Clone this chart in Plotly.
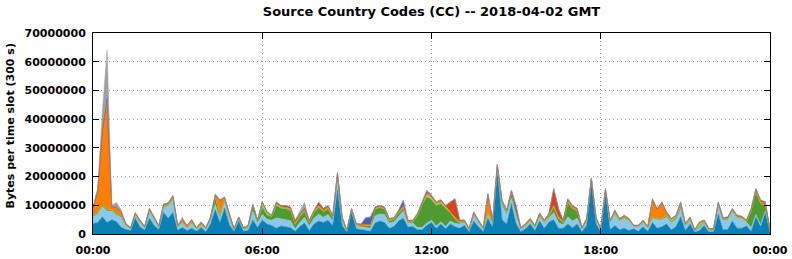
import pandas as pd
import plotly.graph_objects as go

# time slots (10-minute sampling of the day)
times = pd.date_range("2018-04-02 00:00", periods=145, freq="10min")

# values in millions of bytes per slot, bottom layer first
teal = [3.7, 4.0, 6.0, 4.0, 5.0, 4.3, 2.3, 1.6, 1.2, 5.5,
        2.4, 1.4, 5.5, 3.0, 1.6, 7.5, 5.5, 7.5, 1.3, 2.3,
        1.2, 2.0, 1.0, 2.3, 0.8, 3.5, 8.5, 4.0, 9.0, 3.2,
        0.9, 4.5, 1.0, 1.2, 4.9, 2.3, 4.9, 3.5, 3.0, 2.0,
        2.8, 2.5, 2.2, 1.0, 2.6, 3.8, 1.2, 3.5, 4.5, 4.0,
        4.8, 3.0, 15.3, 3.0, 0.6, 7.5, 1.8, 1.6, 1.3, 1.0,
        3.8, 4.5, 4.0, 2.0, 2.6, 4.5, 5.5, 2.4, 2.6, 1.5,
        1.5, 3.0, 4.0, 2.0, 3.5, 1.8, 3.5, 2.5, 2.0, 3.0,
        0.8, 4.5, 2.5, 0.9, 5.5, 2.4, 22.0, 5.0, 3.5, 10.5,
        3.5, 0.8, 1.8, 3.5, 1.2, 4.5, 2.0, 4.2, 5.0, 2.0,
        2.0, 3.5, 2.2, 3.5, 0.8, 3.0, 18.0, 3.5, 0.8, 14.0,
        1.5, 3.0, 1.5, 2.0, 1.2, 1.8, 1.0, 2.5, 1.0, 4.0,
        2.0, 2.5, 3.5, 1.5, 2.5, 6.0, 1.2, 3.5, 0.6, 1.2,
        3.0, 0.7, 0.7, 7.0, 1.5, 1.6, 4.5, 2.0, 2.0, 2.8,
        1.0, 6.0, 2.5, 7.5, 0.6]
light_blue = [2.3, 3.0, 3.5, 4.0, 3.0, 2.3, 3.5, 1.2, 0.6, 1.0,
              1.6, 0.8, 2.3, 2.0, 0.8, 1.8, 4.2, 4.8, 1.2, 1.5,
              0.8, 1.8, 0.7, 0.8, 0.9, 1.5, 1.8, 1.5, 2.5, 2.5,
              0.6, 0.8, 0.6, 0.8, 3.0, 1.4, 2.0, 1.6, 1.8, 3.6,
              2.6, 2.5, 2.5, 0.8, 1.5, 2.0, 1.6, 2.0, 2.4, 1.8,
              2.0, 1.5, 4.0, 1.6, 0.4, 0.6, 1.0, 0.8, 1.0, 1.0,
              2.5, 2.5, 2.8, 1.8, 1.6, 1.8, 2.5, 1.3, 1.2, 0.8,
              0.8, 0.8, 0.8, 0.8, 0.8, 0.8, 1.0, 1.2, 1.5, 1.0,
              0.6, 2.0, 1.4, 0.8, 1.3, 1.2, 1.0, 5.0, 3.5, 2.0,
              3.0, 0.8, 0.9, 1.0, 1.0, 1.6, 1.8, 1.5, 2.5, 2.0,
              1.2, 2.5, 2.3, 2.0, 0.7, 1.4, 0.6, 1.6, 0.7, 0.8,
              2.5, 4.0, 3.0, 3.5, 3.4, 0.8, 1.5, 1.6, 1.2, 1.5,
              3.0, 2.5, 2.5, 2.5, 2.5, 3.0, 1.6, 1.2, 0.5, 1.0,
              0.8, 0.6, 0.6, 3.0, 3.3, 3.4, 3.3, 3.6, 3.4, 1.3,
              1.2, 0.8, 0.6, 0.6, 0.4]
green = [0.4, 0.5, 0.5, 0.5, 0.4, 0.5, 0.4, 0.2, 0.1, 0.2,
         0.2, 0.1, 0.3, 0.2, 0.1, 0.3, 0.3, 0.3, 0.1, 0.2,
         0.1, 0.2, 0.1, 0.1, 0.1, 0.3, 2.5, 0.8, 0.5, 0.5,
         0.1, 0.2, 0.3, 0.5, 1.8, 0.6, 2.3, 1.5, 1.2, 4.2,
         3.6, 3.8, 3.5, 1.6, 2.0, 2.2, 1.2, 2.0, 2.5, 2.0,
         2.0, 1.2, 1.0, 0.6, 0.1, 0.2, 0.3, 0.3, 0.6, 0.8,
         2.4, 2.2, 1.8, 0.8, 0.8, 1.0, 1.0, 0.4, 0.4, 4.0,
         7.7, 9.1, 7.1, 7.1, 6.2, 6.3, 3.0, 1.5, 0.4, 0.3,
         0.1, 0.3, 0.3, 0.1, 0.4, 0.3, 0.3, 0.8, 0.6, 1.6,
         0.8, 0.1, 0.2, 0.2, 0.2, 0.3, 0.3, 0.5, 2.0, 1.5,
         0.8, 5.0, 4.4, 2.5, 0.3, 0.3, 0.2, 0.2, 0.1, 0.2,
         0.2, 0.3, 0.2, 0.3, 0.2, 0.1, 0.1, 0.1, 0.1, 0.3,
         0.3, 0.4, 0.4, 0.3, 0.3, 0.6, 0.3, 0.3, 0.1, 0.2,
         0.2, 0.1, 0.1, 0.3, 0.2, 0.2, 0.3, 0.2, 0.2, 0.2,
         5.8, 7.8, 7.6, 1.8, 0.1]
light_green = [0, 0, 0, 0, 0, 0, 0, 0, 0, 0,
               0, 0, 0, 0, 0, 0, 0, 0, 0, 0,
               0, 0, 0, 0, 0, 0, 0, 0, 0, 0,
               0, 0, 0, 0, 0, 0, 1.6, 0.8, 0.2, 0.3,
               0.2, 0.2, 0.2, 0, 0, 0, 0, 0, 0, 0,
               0, 0, 0, 0, 0, 0, 0, 0, 0, 0,
               0, 0, 0, 0, 0, 0, 0, 0, 0, 0,
               0.4, 0.8, 0.6, 0.5, 0.6, 0.4, 0, 0, 0, 0,
               0, 0, 0, 0, 0, 0, 0, 0, 0, 0.3,
               0, 0, 0, 0, 0, 0, 0, 0, 0, 0,
               0, 0, 0, 0, 0, 0, 0, 0, 0, 0,
               0, 0, 0, 0, 0, 0, 0, 0, 0, 0,
               0, 0, 0, 0.5, 0.5, 0.5, 0, 0.2, 0, 1.2,
               0.3, 0, 0, 0, 0, 0, 0, 0, 0, 0,
               0, 0, 0, 0, 0]
orange = [2.6, 7.5, 26.0, 38.5, 1.0, 2.0, 1.2, 0.4, 0.2, 0.5,
          0.4, 0.3, 0.6, 0.5, 0.3, 0.6, 0.6, 0.6, 0.3, 0.6,
          0.8, 0.7, 0.3, 0.8, 0.3, 0.4, 0.6, 5.3, 0.6, 0.6,
          0.2, 0.3, 0.2, 0.4, 0.5, 0.4, 0.3, 0.2, 0.2, 0.5,
          0.3, 0.4, 0.4, 0.4, 0.4, 0.5, 0.4, 0.4, 0.5, 0.5,
          0.5, 0.4, 0.7, 0.5, 0.2, 0.4, 0.4, 0.5, 0.4, 0.4,
          0.5, 0.5, 0.5, 0.5, 0.5, 0.5, 0.7, 0.4, 0.4, 0.5,
          0.5, 0.6, 0.5, 0.5, 0.5, 0.4, 0.5, 0.6, 0.4, 0.4,
          0.3, 0.6, 0.4, 0.3, 6.5, 0.7, 0.7, 0.6, 0.5, 0.5,
          0.4, 0.3, 0.5, 0.5, 0.4, 0.6, 0.5, 0.5, 0.5, 0.5,
          0.5, 0.7, 0.6, 0.5, 0.3, 0.5, 0.5, 0.4, 0.2, 0.3,
          0.4, 0.7, 0.5, 0.5, 0.4, 0.2, 0.3, 0.4, 0.3, 6.0,
          3.2, 5.4, 1.0, 0.4, 0.5, 0.7, 0.4, 0.5, 0.2, 0.4,
          0.4, 0.4, 0.4, 0.6, 0.5, 0.5, 0.6, 0.5, 0.4, 0.4,
          0.6, 0.7, 0.6, 0.4, 0.2]
red = [0.1, 0.1, 0.2, 0.2, 0.1, 0.2, 0.2, 0.1, 0.1, 0.1,
       0.1, 0.1, 0.1, 0.1, 0.1, 0.1, 0.1, 0.1, 0.1, 0.2,
       0.1, 0.2, 0.1, 0.1, 0.1, 0.1, 0.2, 0.1, 0.1, 0.2,
       0.1, 0.1, 0.1, 0.1, 0.1, 0.1, 0.1, 0.1, 0.1, 0.4,
       0.3, 0.4, 0.5, 0.9, 0.5, 0.5, 0.3, 0.3, 1.0, 0.5,
       0.5, 0.2, 0.2, 0.1, 0.05, 0.1, 0.1, 0.2, 0.2, 0.2,
       0.1, 0.1, 0.2, 0.2, 0.1, 0.2, 0.3, 0.2, 0.1, 0.2,
       0.2, 0.2, 0.2, 0.2, 0.2, 0.1, 3.0, 6.3, 0.4, 0.1,
       0.1, 0.2, 0.1, 0.1, 0.2, 0.1, 0.2, 0.2, 0.2, 0.2,
       0.2, 0.2, 0.2, 0.2, 0.2, 0.2, 0.2, 0.5, 5.7, 2.8,
       0.2, 0.4, 0.3, 0.3, 0.1, 0.1, 0.1, 0.1, 0.1, 0.1,
       0.1, 0.2, 0.1, 0.1, 0.1, 0.1, 0.1, 0.1, 0.1, 0.2,
       0.2, 0.2, 0.2, 0.1, 0.1, 0.2, 0.1, 0.1, 0.1, 0.1,
       0.1, 0.1, 0.1, 0.1, 0.1, 0.1, 0.1, 0.1, 0.1, 0.1,
       0.2, 0.4, 0.4, 0.8, 0.1]
blue = [0, 0, 0, 0, 0, 0, 0, 0, 0, 0,
        0, 0, 0, 0, 0, 0, 0, 0, 0, 0,
        0, 0, 0, 0, 0, 0, 0, 0, 0, 0,
        0, 0, 0, 0, 0, 0, 0, 0, 0, 0,
        0, 0, 0, 0, 0, 0, 0, 0, 0, 0,
        0, 0, 0, 0, 0, 0, 0, 0, 2.1, 2.4,
        0, 0, 0, 0, 0, 0.2, 1.7, 0, 0, 0,
        0, 0.6, 0.2, 0, 0, 0, 0, 0, 0, 0,
        0, 0, 0, 0, 0, 0, 0, 0, 0, 0,
        1.9, 0, 0, 0, 0, 0, 0, 0, 0, 0,
        0, 0, 0, 0, 0, 0, 0, 0, 0, 0.4,
        0, 0, 0, 0, 0, 0, 0, 0, 0, 0,
        0, 0, 0, 0, 0, 0, 0, 0, 0, 0,
        0, 0, 0, 0, 0, 0, 0, 0, 0, 0,
        0, 0, 0, 0, 0]
grey = [0.4, 0.9, 6.8, 16.8, 0.5, 1.7, 0.8, 0.2, 0.1, 0.2,
        0.2, 0.1, 0.2, 0.2, 0.1, 0.2, 0.3, 0.2, 0.1, 1.0,
        0.1, 0.2, 0.1, 0.2, 0.1, 0.2, 0.4, 0.3, 0.3, 0.2,
        0.1, 0.1, 0.1, 0.1, 0.2, 0.1, 0.1, 0.1, 0.1, 0.3,
        0.2, 0.2, 0.2, 0.2, 0.8, 2.0, 0.2, 0.2, 0.4, 0.2,
        0.2, 0.2, 0.3, 0.2, 0.05, 0.2, 0.1, 0.1, 0.2, 0.2,
        0.2, 0.2, 0.2, 0.2, 0.2, 0.2, 0.2, 0.2, 0.2, 0.2,
        0.2, 0.2, 0.2, 0.2, 0.2, 0.2, 0.3, 0.3, 0.2, 0.2,
        0.1, 0.2, 0.2, 0.1, 0.3, 0.2, 0.2, 0.3, 0.3, 0.2,
        0.2, 0.1, 0.1, 0.1, 0.1, 0.2, 0.1, 0.2, 0.3, 0.2,
        0.2, 0.3, 0.2, 0.2, 0.1, 0.2, 0.2, 0.2, 0.1, 0.2,
        0.2, 0.2, 0.2, 0.2, 0.2, 0.1, 0.1, 0.2, 0.1, 0.4,
        0.3, 0.3, 0.2, 0.2, 0.2, 0.3, 0.1, 0.2, 0.1, 0.2,
        0.1, 0.1, 0.1, 0.3, 0.2, 0.2, 0.2, 0.2, 0.2, 0.1,
        0.2, 0.3, 0.2, 0.2, 0.1]

layers = [
    ("CC 1", teal, "#0b80b5"),
    ("CC 2", light_blue, "#8ec8e8"),
    ("CC 3", green, "#4f9b2f"),
    ("CC 4", light_green, "#94d24a"),
    ("CC 5", orange, "#ff8000"),
    ("CC 6", red, "#dc4418"),
    ("CC 7", blue, "#4062c0"),
    ("CC 8", grey, "#a0a0a0"),
]

FONT = "DejaVu Sans"

fig = go.Figure()
for name, vals, color in layers:
    fig.add_trace(go.Scatter(
        x=times, y=[v * 1e6 for v in vals], name=name,
        mode="lines", stackgroup="one",
        line=dict(color=color, width=0.5),
        fillcolor=color, showlegend=False,
    ))

fig.update_layout(
    width=792, height=259,
    margin=dict(l=93, r=22, t=33, b=25, autoexpand=False),
    paper_bgcolor="white", plot_bgcolor="white",
    font=dict(family=FONT, size=11, color="black", weight="bold"),
    title=dict(text="Source Country Codes (CC) -- 2018-04-02 GMT",
               x=0.5, xref="paper", y=1 - 11 / 259, yref="container",
               xanchor="center", yanchor="middle",
               font=dict(family=FONT, size=13, weight="bold", color="black")),
    annotations=[dict(text="Bytes per time slot (300 s)", textangle=-90,
                      xref="paper", yref="paper", x=(10 - 93) / 677, y=0.535,
                      xanchor="center", yanchor="middle", showarrow=False,
                      font=dict(family=FONT, size=11, weight="bold", color="black"))],
)
fig.update_xaxes(
    type="date", range=["2018-04-02 00:00", "2018-04-03 00:00"],
    dtick=6 * 3600 * 1000, tickformat="%H:%M", automargin=False,
    showline=True, linecolor="black", linewidth=1, mirror="ticks",
    ticks="inside", ticklen=6, tickcolor="black",
    showgrid=True, gridcolor="#a0a0a0", griddash="1px,3px", gridwidth=1,
    zeroline=False, ticklabelstandoff=6,
    tickfont=dict(family=FONT, size=11, weight="bold"),
)
fig.update_yaxes(
    range=[0, 70e6], dtick=10e6, tickformat="d", automargin=False,
    showline=True, linecolor="black", linewidth=1, mirror="ticks",
    ticks="inside", ticklen=6, tickcolor="black",
    showgrid=True, gridcolor="#a0a0a0", griddash="1px,3px", gridwidth=1,
    zeroline=False, ticklabelstandoff=4,
    tickfont=dict(family=FONT, size=11, weight="bold"),
)

fig.write_html("out.html")
